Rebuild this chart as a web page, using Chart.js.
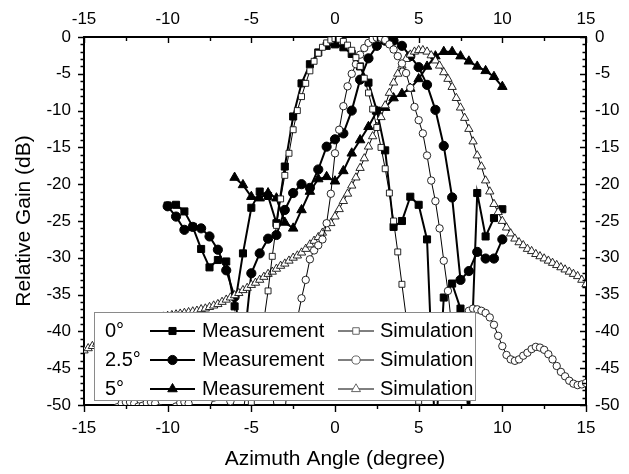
<!DOCTYPE html>
<html>
<head>
<meta charset="utf-8">
<title>Relative Gain vs Azimuth Angle</title>
<script src="https://cdn.jsdelivr.net/npm/chart.js@4.4.0/dist/chart.umd.min.js"></script>
<style>
    html, body { margin: 0; padding: 0; background: #fff; }
    #wrap { width: 629px; height: 474px; }
</style>
</head>
<body>
<div id="wrap"><canvas id="gainChart" width="629" height="474"></canvas></div>
<script>
// ============================================
// DATA
// ============================================

// Measurement angles (degree)
const measAngles = [-10, -9.5, -9, -8.5, -8, -7.5, -7, -6.5, -6, -5.5, -5, -4.5, -4, -3.5, -3, -2.5, -2, -1.5, -1, -0.5,
    0, 0.5, 1, 1.5, 2, 2.5, 3, 3.5, 4, 4.5, 5, 5.5, 6, 6.5, 7, 7.5, 8, 8.5, 9, 9.5, 10];
const meas5Angles = [-6, -5.5, -5, -4.5, -4, -3.5, -3, -2.5, -2, -1.5, -1, -0.5,
    0, 0.5, 1, 1.5, 2, 2.5, 3, 3.5, 4, 4.5, 5, 5.5, 6, 6.5, 7, 7.5, 8, 8.5, 9, 9.5, 10];

// Measured relative gain (dB)
const meas0Gain = [-22.9, -22.8, -23.7, -25.8, -28.8, -31.3, -30.3, -30.5, -36.6, -29.4, -23.2, -21.0, -21.6, -25.3, -17.6,
    -10.8, -6.3, -3.7, -2.1, -1.2, -1.0, -1.4, -2.3, -4.0, -6.2, -10.0, -15.4, -25.8, -25.0, -21.7, -22.8, -27.5,
    -55, -35.4, -33.5, -36.9, -52, -21.2, -27.1, -24.6, -23.4];
const meas25Gain = [-23.0, -24.4, -26.2, -25.8, -26.0, -27.1, -28.9, -31.7, -35.3, -43, -32.1, -29.4, -27.4, -26.9, -23.5,
    -21.2, -20.0, -20.5, -18.0, -14.9, -13.9, -13.1, -10.0, -5.8, -2.9, -1.2, -0.5, -0.5, -1.2, -2.6, -4.1, -6.5,
    -9.9, -14.8, -21.8, -33.0, -31.8, -29.2, -30.1, -30.1, -27.5];
const meas5Gain = [-19.1, -20.1, -21.7, -21.9, -21.2, -21.9, -25.2, -26.0, -23.5, -21.0, -19.3, -19.0,
    -19.6, -18.2, -15.8, -14.0, -12.2, -10.1, -9.6, -8.3, -7.7, -7.0, -5.7, -4.0, -2.6, -2.0, -2.0, -2.6,
    -3.3, -4.0, -4.6, -5.4, -6.75];

// Simulation angles (degree)
const sim0Angles = [-5, -4.75, -4.5, -4.25, -4, -3.75, -3.5, -3.25, -3, -2.75, -2.5, -2.25, -2, -1.75, -1.5, -1.25, -1, -0.75, -0.5, -0.25,
    0, 0.25, 0.5, 0.75, 1, 1.25, 1.5, 1.75, 2, 2.25, 2.5, 2.75, 3, 3.25, 3.5, 3.75, 4, 4.25, 4.5, 4.75, 5];
const simAngles = [-15, -14.75, -14.5, -14.25, -14, -13.75, -13.5, -13.25, -13, -12.75,
    -12.5, -12.25, -12, -11.75, -11.5, -11.25, -11, -10.75, -10.5, -10.25,
    -10, -9.75, -9.5, -9.25, -9, -8.75, -8.5, -8.25, -8, -7.75,
    -7.5, -7.25, -7, -6.75, -6.5, -6.25, -6, -5.75, -5.5, -5.25,
    -5, -4.75, -4.5, -4.25, -4, -3.75, -3.5, -3.25, -3, -2.75,
    -2.5, -2.25, -2, -1.75, -1.5, -1.25, -1, -0.75, -0.5, -0.25,
    0, 0.25, 0.5, 0.75, 1, 1.25, 1.5, 1.75, 2, 2.25,
    2.5, 2.75, 3, 3.25, 3.5, 3.75, 4, 4.25, 4.5, 4.75,
    5, 5.25, 5.5, 5.75, 6, 6.25, 6.5, 6.75, 7, 7.25,
    7.5, 7.75, 8, 8.25, 8.5, 8.75, 9, 9.25, 9.5, 9.75,
    10, 10.25, 10.5, 10.75, 11, 11.25, 11.5, 11.75, 12, 12.25,
    12.5, 12.75, 13, 13.25, 13.5, 13.75, 14, 14.25, 14.5, 14.75,
    15];

// Simulated relative gain (dB)
const sim0Gain = [-49.6, -46, -42.5, -38.5, -34.5, -29.8, -25.6, -22.0, -18.8, -15.8, -12.6, -10.0, -8.1, -6.3, -4.6, -3.3, -2.2, -1.4, -0.8, -0.4,
    -0.2, -0.3, -0.6, -1.1, -1.8, -2.8, -4.0, -5.6, -7.6, -9.8, -12.3, -15.0, -17.9, -21.2, -25.0, -29.2, -33.6, -38, -42, -46, -49.5];
const sim25Gain = [-55, -56, -57, -56, -54.5, -53, -52, -51, -50.3, -49.8,
    -49.6, -49.6, -49.8, -50.2, -50.1, -49.7, -49.6, -49.8, -50.4, -51.5,
    -52, -51, -50.2, -49.7, -49.6, -49.8, -50.5, -51.5, -53, -52,
    -50.5, -49, -48, -47.6, -48, -49.5, -52, -55, -51, -47.5,
    -45.5, -44.5, -44.3, -44.8, -46, -48.5, -52, -56, -51, -45.5,
    -41.5, -38.3, -35.5, -33.0, -30.2, -29.0, -28.3, -27.5, -25.3, -21.3,
    -15.8, -12.6, -9.4, -6.7, -5.0, -3.7, -2.4, -1.5, -0.8, -0.3,
    -0.1, -0.1, -0.4, -1.0, -1.7, -2.6, -3.6, -4.9, -6.9, -9.5,
    -11.3, -13.1, -16.1, -19.5, -22.3, -26.0, -30.4, -34.5, -40, -47,
    -45, -40, -37.2, -36.9, -37.0, -37.2, -37.5, -38.1, -39.1, -40.6,
    -42.0, -43.2, -43.8, -44.0, -43.8, -43.3, -42.9, -42.4, -42.1, -42.2,
    -42.5, -43.1, -43.8, -44.7, -45.5, -46.1, -46.7, -47.1, -47.3, -47.2,
    -47.0];
const sim5Gain = [-42.6, -42.3, -42.0, -41.7, -41.4, -41.1, -40.8, -40.5, -40.2, -39.9,
    -39.6, -39.4, -39.2, -39.0, -38.8, -38.6, -38.5, -38.3, -38.2, -38.0,
    -37.9, -37.8, -37.7, -37.6, -37.5, -37.4, -37.3, -37.2, -37.0, -36.9,
    -36.7, -36.5, -36.3, -36.0, -35.7, -35.4, -35.1, -34.8, -34.4, -34.1,
    -33.7, -33.4, -33.0, -32.6, -32.2, -31.9, -31.5, -31.1, -30.8, -30.4,
    -30.0, -29.7, -29.3, -28.8, -28.2, -27.7, -27.2, -26.6, -26.0, -25.3,
    -24.4, -23.4, -22.3, -21.3, -20.2, -19.1, -17.8, -16.5, -14.9, -13.5,
    -12.2, -10.9, -9.3, -7.6, -6.2, -5.0, -3.9, -3.0, -2.4, -2.0,
    -1.8, -1.8, -2.0, -2.5, -3.2, -3.9, -4.8, -5.7, -6.8, -8.3,
    -9.6, -11.0, -12.5, -14.2, -16.1, -17.6, -19.5, -21.0, -22.7, -23.8,
    -25.0, -25.9, -26.7, -27.4, -27.9, -28.3, -28.8, -29.1, -29.5, -29.8,
    -30.1, -30.4, -30.7, -31.0, -31.3, -31.6, -31.9, -32.2, -32.5, -33.0,
    -33.6];

// Legend rows: steering angle labels
const steerLabels = ['0\u00B0', '2.5\u00B0', '5\u00B0'];

// ============================================
// CHART
// ============================================
const FONT = '"Liberation Sans", Arial, Helvetica, sans-serif';

function toPoints(xs, ys) {
    return xs.map((x, i) => ({ x: x, y: ys[i] }));
}

function simSet(label, xs, ys, style, r) {
    return {
        label: label,
        data: toPoints(xs, ys),
        borderColor: '#000',
        borderWidth: 1,
        pointStyle: style,
        pointRadius: r,
        pointBackgroundColor: '#fff',
        pointBorderColor: '#111',
        pointBorderWidth: 0.9,
        tension: 0
    };
}

function measSet(label, xs, ys, style, r) {
    return {
        label: label,
        data: toPoints(xs, ys),
        borderColor: '#000',
        borderWidth: 2,
        pointStyle: style,
        pointRadius: r,
        pointBackgroundColor: '#000',
        pointBorderColor: '#000',
        pointBorderWidth: 1,
        tension: 0
    };
}

// sims first so they are drawn on top
const datasets = [
    simSet('0\u00B0 Simulation', sim0Angles, sim0Gain, 'rect', 4.2),
    simSet('2.5\u00B0 Simulation', simAngles, sim25Gain, 'circle', 3.7),
    simSet('5\u00B0 Simulation', simAngles, sim5Gain, 'triangle', 4.8),
    measSet('0\u00B0 Measurement', measAngles, meas0Gain, 'rect', 5),
    measSet('2.5\u00B0 Measurement', measAngles, meas25Gain, 'circle', 4.6),
    measSet('5\u00B0 Measurement', meas5Angles, meas5Gain, 'triangle', 5.5)
];

// Minor/major tick marks: outward on bottom/left, inward on top/right
const tickMarks = {
    id: 'tickMarks',
    afterDraw(chart) {
        const { ctx, chartArea: a, scales: { x, y } } = chart;
        ctx.save();
        ctx.strokeStyle = '#000';
        ctx.lineWidth = 1.4;
        ctx.beginPath();
        for (let v = x.min; v <= x.max; v += 2.5) {
            const px = Math.round(x.getPixelForValue(v)) + 0.5;
            const major = v % 5 === 0;
            ctx.moveTo(px, a.bottom);
            ctx.lineTo(px, a.bottom + (major ? 7 : 4));
            ctx.moveTo(px, a.top);
            ctx.lineTo(px, a.top + (major ? 6 : 4));
        }
        for (let v = y.min; v <= y.max; v += 1) {
            const py = Math.round(y.getPixelForValue(v)) + 0.5;
            const major = v % 5 === 0;
            ctx.moveTo(a.left, py);
            ctx.lineTo(a.left - (major ? 6 : 3.5), py);
            ctx.moveTo(a.right, py);
            ctx.lineTo(a.right - (major ? 6 : 3.5), py);
        }
        ctx.stroke();
        ctx.restore();
    }
};

// Boxed legend: steering angle | measurement sample | simulation sample
const boxLegend = {
    id: 'boxLegend',
    afterDatasetsDraw(chart) {
        const ctx = chart.ctx;
        const box = { left: 94.5, top: 312.5, w: 381, h: 88 };
        const rowY = [331, 360, 389];
        ctx.save();
        ctx.fillStyle = '#fff';
        ctx.fillRect(box.left, box.top, box.w, box.h);
        ctx.strokeStyle = '#8a8a8a';
        ctx.lineWidth = 1;
        ctx.strokeRect(box.left, box.top, box.w, box.h);

        ctx.font = '20px ' + FONT;
        ctx.textBaseline = 'middle';
        steerLabels.forEach((lbl, i) => {
            const yy = rowY[i];
            const meas = chart.data.datasets[3 + i];
            const sim = chart.data.datasets[i];

            ctx.fillStyle = '#000';
            ctx.textAlign = 'left';
            ctx.fillText(lbl, 105, yy);

            // measurement sample
            ctx.strokeStyle = '#000';
            ctx.lineWidth = meas.borderWidth;
            ctx.beginPath();
            ctx.moveTo(150, yy);
            ctx.lineTo(195, yy);
            ctx.stroke();
            ctx.fillStyle = meas.pointBackgroundColor;
            ctx.strokeStyle = meas.pointBorderColor;
            ctx.lineWidth = meas.pointBorderWidth;
            Chart.helpers.drawPoint(ctx, { pointStyle: meas.pointStyle, radius: meas.pointRadius, borderWidth: meas.pointBorderWidth, rotation: 0 }, 172.5, yy);
            ctx.fillStyle = '#000';
            ctx.fillText('Measurement', 202, yy);

            // simulation sample
            ctx.strokeStyle = '#000';
            ctx.lineWidth = sim.borderWidth;
            ctx.beginPath();
            ctx.moveTo(338, yy);
            ctx.lineTo(374, yy);
            ctx.stroke();
            ctx.fillStyle = sim.pointBackgroundColor;
            ctx.strokeStyle = '#555';
            ctx.lineWidth = sim.pointBorderWidth;
            Chart.helpers.drawPoint(ctx, { pointStyle: sim.pointStyle, radius: sim.pointRadius + 0.4, borderWidth: sim.pointBorderWidth, rotation: 0 }, 356, yy);
            ctx.fillStyle = '#000';
            ctx.fillText('Simulation', 380, yy);
        });
        ctx.restore();
    }
};

const tickFont = { family: FONT, size: 17 };
const titleFont = { family: FONT, size: 21 };
const noGrid = { display: false, drawTicks: false };
const axisBorder = { display: true, color: '#000', width: 2 };

new Chart(document.getElementById('gainChart').getContext('2d'), {
    type: 'line',
    data: { datasets: datasets },
    options: {
        responsive: false,
        animation: false,
        layout: { padding: 0 },
        plugins: {
            legend: { display: false },
            tooltip: { enabled: false }
        },
        scales: {
            x: {
                type: 'linear', position: 'bottom', min: -15, max: 15,
                ticks: { stepSize: 5, color: '#000', font: tickFont, padding: 13, maxRotation: 0 },
                grid: noGrid, border: axisBorder,
                title: { display: true, text: 'Azimuth Angle (degree)', color: '#000', font: titleFont, padding: { top: 0, bottom: 2 } },
                afterFit: s => { s.height = 69; }
            },
            x2: {
                type: 'linear', position: 'top', min: -15, max: 15,
                ticks: { stepSize: 5, color: '#000', font: tickFont, padding: 7, maxRotation: 0 },
                grid: noGrid, border: axisBorder,
                afterFit: s => { s.height = 37; }
            },
            y: {
                type: 'linear', position: 'left', min: -50, max: 0,
                ticks: { stepSize: 5, color: '#000', font: tickFont, padding: 13 },
                grid: noGrid, border: axisBorder,
                title: { display: true, text: 'Relative Gain (dB)', color: '#000', font: titleFont, padding: { top: 12, bottom: 0 } },
                afterFit: s => { s.width = 84; }
            },
            y2: {
                type: 'linear', position: 'right', min: -50, max: 0,
                ticks: { stepSize: 5, color: '#000', font: tickFont, padding: 9 },
                grid: noGrid, border: axisBorder,
                afterFit: s => { s.width = 43; }
            }
        }
    },
    plugins: [boxLegend, tickMarks]
});
</script>
</body>
</html>
